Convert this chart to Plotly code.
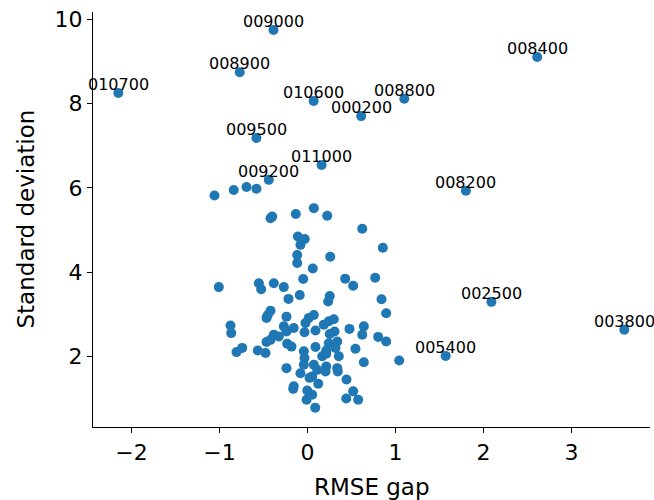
import plotly.graph_objects as go

# Unlabeled points (RMSE gap, standard deviation)
rmse_gap = [
    -1.057, -0.838, -0.693, -0.580, -0.420, -0.401, -0.133, 0.072, 0.224, 0.622,
    0.856, -0.110, -0.031, -0.080, -0.117, -0.117, 0.258, 0.060, -0.049, 0.428,
    0.519, 0.769, -1.008, -0.553, -0.526, -0.383, -0.269, -0.216, -0.088, 0.253,
    0.235, 0.841, 0.894, -0.420, -0.451, -0.466, -0.239, -0.875, -0.867, -0.269,
    -0.239, -0.156, -0.023, 0.015, 0.072, -0.034, 0.185, 0.242, 0.299, 0.091,
    0.253, 0.307, 0.477, 0.640, 0.622, 0.803, 0.894, -0.383, -0.326, -0.420,
    -0.466, -0.565, -0.477, -0.807, -0.742, -0.231, -0.182, 0.091, 0.213, 0.242,
    0.338, 0.318, -0.042, -0.034, 0.167, 0.213, 0.356, 0.545, 0.640, 1.042,
    -0.042, -0.080, 0.072, 0.110, 0.053, 0.213, 0.205, 0.338, 0.344, -0.239,
    0.443, 0.023, 0.122, -0.156, -0.163, -0.003, 0.053, -0.011, 0.519, 0.440,
    0.576, 0.088,
]
std_dev = [
    5.82, 5.95, 6.02, 5.98, 5.28, 5.32, 5.38, 5.52, 5.34, 5.03,
    4.58, 4.85, 4.79, 4.65, 4.41, 4.22, 4.37, 4.09, 3.84, 3.85,
    3.68, 3.87, 3.65, 3.74, 3.60, 3.74, 3.65, 3.37, 3.46, 3.44,
    3.31, 3.36, 3.03, 3.09, 2.99, 2.92, 2.95, 2.74, 2.56, 2.72,
    2.60, 2.68, 2.80, 2.92, 2.99, 2.58, 2.76, 2.84, 2.89, 2.62,
    2.54, 2.60, 2.66, 2.72, 2.52, 2.47, 2.36, 2.52, 2.48, 2.40,
    2.35, 2.15, 2.09, 2.11, 2.21, 2.31, 2.24, 2.23, 2.15, 2.32,
    2.36, 2.21, 2.13, 1.97, 2.01, 2.07, 2.01, 2.19, 1.87, 1.91,
    1.81, 1.61, 1.81, 1.69, 1.53, 1.77, 1.65, 1.73, 1.65, 1.73,
    1.46, 1.50, 1.36, 1.30, 1.24, 1.20, 1.10, 0.98, 1.18, 1.01,
    0.98, 0.79,
]

# Labeled points
label_names = ["009000", "008400", "008900", "010700", "010600", "008800", "000200",
               "009500", "011000", "009200", "008200", "002500", "003800", "005400"]
label_gap = [-0.386, 2.61, -0.77, -2.15, 0.07, 1.10, 0.61,
             -0.58, 0.16, -0.44, 1.80, 2.09, 3.60, 1.57]
label_std = [9.74, 9.10, 8.74, 8.25, 8.06, 8.11, 7.70,
             7.18, 6.54, 6.19, 5.93, 3.30, 2.64, 2.02]

x_ticks = [-2, -1, 0, 1, 2, 3]
y_ticks = [2, 4, 6, 8, 10]

FONT = "DejaVu Sans"
BLUE = "#1f77b4"

fig = go.Figure()
fig.add_trace(go.Scatter(
    x=rmse_gap + label_gap, y=std_dev + label_std, mode="markers",
    marker=dict(color=BLUE, size=10, line=dict(width=0)),
    showlegend=False, hoverinfo="skip",
))

for name, gx, gy in zip(label_names, label_gap, label_std):
    fig.add_annotation(x=gx, y=gy, text=name, showarrow=False,
                       xanchor="center", yanchor="bottom", yshift=-2,
                       font=dict(family=FONT, size=16, color="black"),
                       borderpad=0)

# Axis titles as paper annotations for exact placement
fig.add_annotation(x=0.5, y=0, xref="paper", yref="paper", text="RMSE gap",
                   showarrow=False, xanchor="center", yanchor="middle", yshift=-60,
                   font=dict(family=FONT, size=23, color="black"))
fig.add_annotation(x=0, y=0.5, xref="paper", yref="paper", text="Standard deviation",
                   showarrow=False, xanchor="center", yanchor="middle", xshift=-68,
                   textangle=-90, font=dict(family=FONT, size=23, color="black"))

axis_common = dict(
    showline=True, linecolor="black", linewidth=1.3,
    ticks="outside", ticklen=5, tickwidth=1.3, tickcolor="black",
    showgrid=False, zeroline=False, automargin=False,
    tickfont=dict(family=FONT, size=22, color="black"),
)

fig.update_xaxes(range=[-2.4375, 3.892], tickvals=x_ticks, **axis_common)
fig.update_yaxes(range=[0.336, 10.166], tickvals=y_ticks, **axis_common)

fig.update_layout(
    width=654, height=500,
    margin=dict(l=93, r=4, t=12, b=73),
    plot_bgcolor="white", paper_bgcolor="white",
    font=dict(family=FONT, color="black"),
    hovermode=False,
)

fig.write_html("out.html", config={"displayModeBar": False},
               post_script="document.body.style.margin='0px';")
